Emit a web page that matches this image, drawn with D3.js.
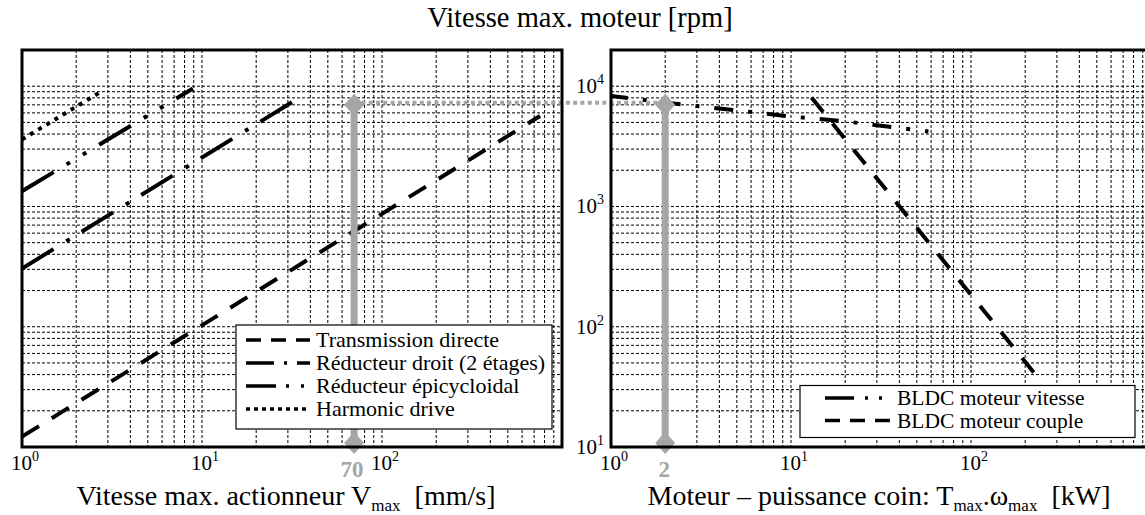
<!DOCTYPE html>
<html lang="fr">
<head>
<meta charset="UTF-8">
<title>Vitesse max. moteur</title>
<style>
  body { margin: 0; background: #fff; }
  text { font-family: "Liberation Serif", "Times New Roman", serif; fill: #000; }
</style>
</head>
<body>
<script src="https://cdn.jsdelivr.net/npm/d3@7"></script>
<script>
const width = 1145, height = 515;

// panneau gauche : [vitesse actionneur mm/s, vitesse moteur rpm]
const directe = [[1, 12.2], [755, 5650]];
const droit = [[1, 305], [32.4, 7540]];
const epicycloidal = [[1, 1340], [8.9, 9570]];
const harmonic = [[1, 3610], [2.7, 8860]];

// panneau droit : [puissance coin kW, vitesse moteur rpm]
const bldcVitesse = [[1, 8300], [2, 7300], [5, 6300], [10, 5600], [20, 5100], [40, 4500], [58, 4200]];
const bldcCouple = [[13, 8050], [224, 41.4]];

// annotation grise
const vmaxPoint = 70;
const puissancePoint = 2;
const rpmPoint = 7300;

const decadesX = [1, 10, 100];
const decadesY = [10, 100, 1000, 10000];

const legendeGauche = ["Transmission directe", "Réducteur droit (2 étages)", "Réducteur épicycloidal", "Harmonic drive"];
const legendeDroite = ["BLDC moteur vitesse", "BLDC moteur couple"];

const gris = "#a6a6a6";

const svg = d3.select("body").append("svg")
    .attr("width", width)
    .attr("height", height);

const yHaut = 50, yBas = 447;
const xL = d3.scaleLog().domain([1, 1000]).range([22, 562]);
const xR = d3.scaleLog().domain([1, 1000]).range([611, 1151]);
const y = d3.scaleLog().domain([10, 20000]).range([yBas, yHaut]);

function grille(x, id) {
    const g = svg.append("g");
    svg.append("clipPath").attr("id", id)
        .append("rect")
        .attr("x", x.range()[0]).attr("y", yHaut)
        .attr("width", x.range()[1] - x.range()[0]).attr("height", yBas - yHaut);
    g.selectAll(".v").data(x.ticks()).enter().append("line")
        .attr("x1", d => x(d)).attr("x2", d => x(d))
        .attr("y1", yHaut).attr("y2", yBas)
        .attr("stroke", "#000").attr("stroke-width", 1)
        .attr("stroke-dasharray", "3,2");
    g.selectAll(".h").data(y.ticks()).enter().append("line")
        .attr("x1", x.range()[0]).attr("x2", x.range()[1])
        .attr("y1", d => y(d)).attr("y2", d => y(d))
        .attr("stroke", "#000").attr("stroke-width", 1)
        .attr("stroke-dasharray", "3,2");
}
grille(xL, "clipG");
grille(xR, "clipD");

function courbe(data, x, dash, clip, offset) {
    const line = d3.line().x(d => x(d[0])).y(d => y(d[1]));
    svg.append("path")
        .datum(data)
        .attr("d", line)
        .attr("clip-path", "url(#" + clip + ")")
        .attr("fill", "none")
        .attr("stroke", "#000")
        .attr("stroke-width", 4)
        .attr("stroke-dasharray", dash)
        .attr("stroke-dashoffset", offset || 0);
}
courbe(directe, xL, "20,15", "clipG");
courbe(droit, xL, "37,15,4,14", "clipG");
courbe(epicycloidal, xL, "37,15,4,15,4,15", "clipG");
courbe(harmonic, xL, "4,5.5", "clipG");
courbe(bldcVitesse, xR, "19,15,4,15", "clipD", 2);
courbe(bldcCouple, xR, "18.5,15", "clipD");

// annotation grise
const diamant = (cx, cy) => `M${cx},${cy - 11}L${cx + 10},${cy}L${cx},${cy + 11}L${cx - 10},${cy}Z`;
svg.append("line")
    .attr("x1", xL(vmaxPoint)).attr("x2", xR(puissancePoint))
    .attr("y1", y(rpmPoint)).attr("y2", y(rpmPoint))
    .attr("stroke", gris).attr("stroke-width", 4)
    .attr("stroke-dasharray", "4,3.3");
[[xL, vmaxPoint], [xR, puissancePoint]].forEach(([x, v]) => {
    svg.append("line")
        .attr("x1", x(v)).attr("x2", x(v))
        .attr("y1", y(rpmPoint)).attr("y2", y(10))
        .attr("stroke", gris).attr("stroke-width", 7);
    svg.append("path").attr("d", diamant(x(v), y(rpmPoint) + 2)).attr("fill", gris);
    svg.append("path").attr("d", diamant(x(v), y(10) - 4)).attr("fill", gris);
});

// légendes
function legende(x0, y0, w, h, lignes, dashes, lx, tx, ly, fs) {
    const g = svg.append("g");
    g.append("rect").attr("x", x0).attr("y", y0).attr("width", w).attr("height", h)
        .attr("fill", "#fff").attr("stroke", "#000").attr("stroke-width", 1.2);
    lignes.forEach((t, i) => {
        const yy = ly[i];
        g.append("line").attr("x1", lx).attr("x2", tx - 6)
            .attr("y1", yy).attr("y2", yy)
            .attr("stroke", "#000").attr("stroke-width", 3.5)
            .attr("stroke-dasharray", dashes[i]);
        g.append("text").attr("x", tx).attr("y", yy + 7)
            .attr("font-size", fs).text(t);
    });
}
legende(236, 325, 316, 104, legendeGauche,
    ["15,10", "28,10,3,10", "30,10,3,12,3,30", "4,4"], 246, 316, [340, 363, 386, 409], 22);
legende(800, 385.5, 335, 52, legendeDroite,
    ["29,11,3,11,3,40", "15,10"], 825, 897, [398, 420.5], 21.5);

// cadres
[xL, xR].forEach(x => {
    svg.append("rect")
        .attr("x", x.range()[0]).attr("y", yHaut)
        .attr("width", x.range()[1] - x.range()[0]).attr("height", yBas - yHaut)
        .attr("fill", "none").attr("stroke", "#000").attr("stroke-width", 3);
});

// graduations
function puissance(sel, base, exp, size, supSize, supDy) {
    sel.append("tspan").text(base).attr("font-size", size);
    sel.append("tspan").text(exp).attr("font-size", supSize).attr("dy", supDy);
}
[xL, xR].forEach(x => {
    decadesX.forEach(d => {
        const t = svg.append("text").attr("x", x(d) + 3).attr("y", 470)
            .attr("text-anchor", "middle");
        puissance(t, "10", Math.round(Math.log10(d)), 21, 14, -9);
    });
});
decadesY.forEach(d => {
    const t = svg.append("text").attr("x", 604).attr("y", y(d) + 7)
        .attr("text-anchor", "end");
    puissance(t, "10", Math.round(Math.log10(d)), 21, 14, -9);
});

svg.append("text").attr("x", xL(vmaxPoint) - 2).attr("y", 477)
    .attr("text-anchor", "middle").attr("font-size", 23).attr("font-weight", "bold")
    .style("fill", gris).text(vmaxPoint);
svg.append("text").attr("x", xR(puissancePoint) - 1).attr("y", 477)
    .attr("text-anchor", "middle").attr("font-size", 23).attr("font-weight", "bold")
    .style("fill", gris).text(puissancePoint);

// titres
svg.append("text").attr("x", 580).attr("y", 27)
    .attr("text-anchor", "middle").attr("font-size", 28.5)
    .text("Vitesse max. moteur [rpm]");

const tg = svg.append("text").attr("x", 286).attr("y", 505)
    .attr("text-anchor", "middle").attr("font-size", 28);
tg.append("tspan").text("Vitesse max. actionneur V");
tg.append("tspan").text("max").attr("font-size", 17).attr("dy", 6);
tg.append("tspan").text("\u00a0 [mm/s]").attr("dy", -6);

const td = svg.append("text").attr("x", 879).attr("y", 505)
    .attr("text-anchor", "middle").attr("font-size", 28);
td.append("tspan").text("Moteur \u2013 puissance coin: T");
td.append("tspan").text("max").attr("font-size", 17).attr("dy", 6);
td.append("tspan").text(".\u03c9").attr("dy", -6);
td.append("tspan").text("max").attr("font-size", 17).attr("dy", 6);
td.append("tspan").text("\u00a0 [kW]").attr("dy", -6);
</script>
</body>
</html>
